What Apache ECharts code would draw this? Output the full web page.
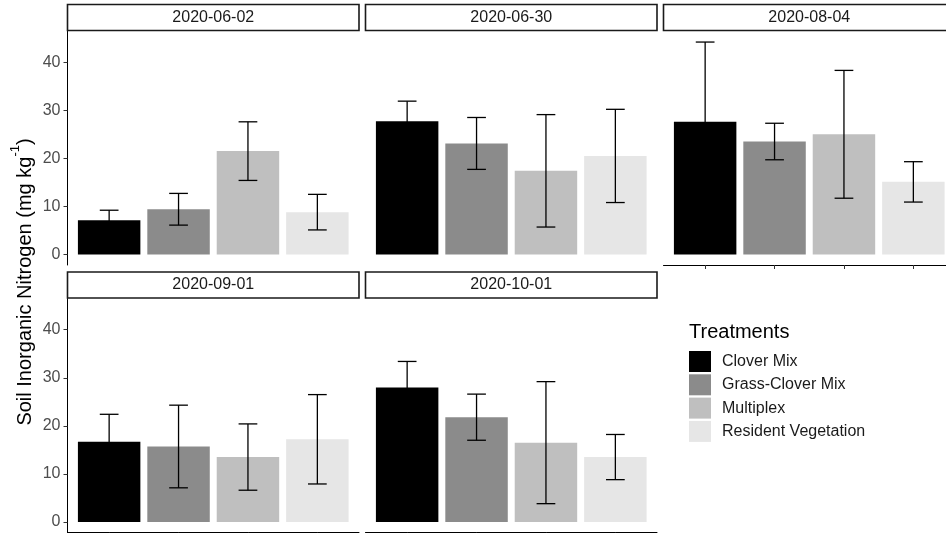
<!DOCTYPE html>
<html>
<head>
<meta charset="utf-8">
<script src="https://cdn.jsdelivr.net/npm/echarts@6/dist/echarts.min.js"></script>
<style>
  html, body { margin: 0; padding: 0; background: #fff; }
  #chart { width: 946px; height: 533px; }
</style>
</head>
<body>
<div id="chart"></div>
<script>
// sampling dates (one facet each)
const dates = ['2020-06-02', '2020-06-30', '2020-08-04', '2020-09-01', '2020-10-01'];
const treatments = ['Clover Mix', 'Grass-Clover Mix', 'Multiplex', 'Resident Vegetation'];
const colors = ['#000000', '#8b8b8b', '#bfbfbf', '#e6e6e6'];

// mean soil inorganic N by date, and the error bar half width
const cloverMix = [7.1, 27.7, 27.6, 16.7, 28.0];
const cloverMixErr = [2.1, 4.2, 16.6, 5.7, 5.4];
const grassCloverMix = [9.4, 23.1, 23.5, 15.7, 21.8];
const grassCloverMixErr = [3.3, 5.4, 3.8, 8.6, 4.8];
const multiplex = [21.5, 17.4, 25.0, 13.5, 16.5];
const multiplexErr = [6.1, 11.7, 13.3, 6.9, 12.7];
const residentVeg = [8.8, 20.5, 15.1, 17.2, 13.5];
const residentVegErr = [3.7, 9.7, 4.2, 9.3, 4.7];

const yTicks = [0, 10, 20, 30, 40];

const FONT = '"Liberation Sans", Arial, sans-serif';
const means = [cloverMix, grassCloverMix, multiplex, residentVeg];
const errs = [cloverMixErr, grassCloverMixErr, multiplexErr, residentVegErr];

// facet layout
const panelLeft = [67.5, 365.5, 663.5];
const panelTop = [31, 298.5];
const panelW = 291.5;
const panelH = 234;
const stripH = 26;
const yMin = -2.2, yMax = 46.5;

const chart = echarts.init(document.getElementById('chart'));

const grid = [], xAxis = [], yAxis = [], series = [], graphic = [];

dates.forEach((d, p) => {
  const col = p % 3;
  const row = Math.floor(p / 3);
  const left = panelLeft[col];
  const top = panelTop[row];

  grid.push({ left: left, top: top, width: panelW, height: panelH, containLabel: false, outerBoundsMode: 'none' });

  xAxis.push({
    gridIndex: p,
    type: 'value',
    min: 0.4,
    max: 4.6,
    show: p >= 2,
    axisLine: { show: true, onZero: false, lineStyle: { color: '#000', width: 1 } },
    axisTick: { show: true, customValues: [1, 2, 3, 4], length: 4, lineStyle: { color: '#333', width: 1 } },
    axisLabel: { show: false },
    splitLine: { show: false }
  });

  yAxis.push({
    gridIndex: p,
    type: 'value',
    min: yMin,
    max: yMax,
    show: col === 0,
    axisLine: { show: true, onZero: false, lineStyle: { color: '#000', width: 1 } },
    axisTick: { show: true, customValues: yTicks, length: 4, lineStyle: { color: '#333', width: 1 } },
    axisLabel: { show: true, customValues: yTicks, margin: 7, color: '#4d4d4d', fontSize: 16, fontFamily: FONT },
    splitLine: { show: false }
  });

  treatments.forEach((t, i) => {
    series.push({
      type: 'bar',
      name: t,
      xAxisIndex: p,
      yAxisIndex: p,
      data: [[i + 1, means[i][p]]],
      barWidth: 0.9 * panelW / 4.2,
      barGap: '-100%',
      itemStyle: { color: colors[i] },
      silent: true,
      z: 2
    });
  });

  series.push({
    type: 'custom',
    name: 'err' + p,
    xAxisIndex: p,
    yAxisIndex: p,
    z: 5,
    silent: true,
    data: treatments.map((t, i) => [i + 1, means[i][p] - errs[i][p], means[i][p] + errs[i][p]]),
    encode: { x: 0, y: [1, 2] },
    renderItem: (params, api) => {
      const x = api.value(0);
      const lo = api.coord([x, api.value(1)]);
      const hi = api.coord([x, api.value(2)]);
      const hw = api.size([0.135, 0])[0];
      const style = { stroke: '#000', lineWidth: 1.3 };
      return {
        type: 'group',
        children: [
          { type: 'line', shape: { x1: hi[0], y1: hi[1], x2: lo[0], y2: lo[1] }, style: style },
          { type: 'line', shape: { x1: hi[0] - hw, y1: hi[1], x2: hi[0] + hw, y2: hi[1] }, style: style },
          { type: 'line', shape: { x1: lo[0] - hw, y1: lo[1], x2: lo[0] + hw, y2: lo[1] }, style: style }
        ]
      };
    }
  });

  // facet strip
  graphic.push({
    type: 'rect',
    shape: { x: left, y: top - stripH - 0.5, width: panelW, height: stripH },
    style: { fill: '#fff', stroke: '#1a1a1a', lineWidth: 1.6 },
    z: 10
  });
  graphic.push({
    type: 'text',
    x: left + panelW / 2,
    y: top - stripH / 2 - 0.5,
    style: { text: d, fontSize: 16, fontFamily: FONT, fill: '#1a1a1a', align: 'center', verticalAlign: 'middle' },
    z: 11
  });
});

// y axis title with superscript
graphic.push({
  type: 'text',
  x: 22,
  y: 282,
  rotation: Math.PI / 2,
  style: {
    text: '{a|Soil Inorganic Nitrogen (mg kg}{s|-1}{a|)}',
    align: 'center',
    verticalAlign: 'middle',
    rich: {
      a: { fontSize: 20, fontFamily: FONT, fill: '#000', lineHeight: 26, verticalAlign: 'bottom' },
      s: { fontSize: 13, fontFamily: FONT, fill: '#000', lineHeight: 13, verticalAlign: 'top' }
    }
  },
  z: 11
});

// legend title
graphic.push({
  type: 'text',
  x: 689,
  y: 332,
  style: { text: 'Treatments', fontSize: 20, fontFamily: FONT, fill: '#000', align: 'left', verticalAlign: 'middle' },
  z: 11
});

const option = {
  backgroundColor: '#fff',
  animation: false,
  grid: grid,
  xAxis: xAxis,
  yAxis: yAxis,
  legend: {
    data: treatments,
    orient: 'vertical',
    left: 689,
    top: 351,
    padding: 0,
    itemWidth: 22,
    itemHeight: 21,
    itemGap: 2.3,
    icon: 'rect',
    selectedMode: false,
    textStyle: { fontSize: 16, fontFamily: FONT, color: '#1a1a1a', padding: [0, 0, 0, 6] }
  },
  series: series,
  graphic: graphic
};

chart.setOption(option);
</script>
</body>
</html>
